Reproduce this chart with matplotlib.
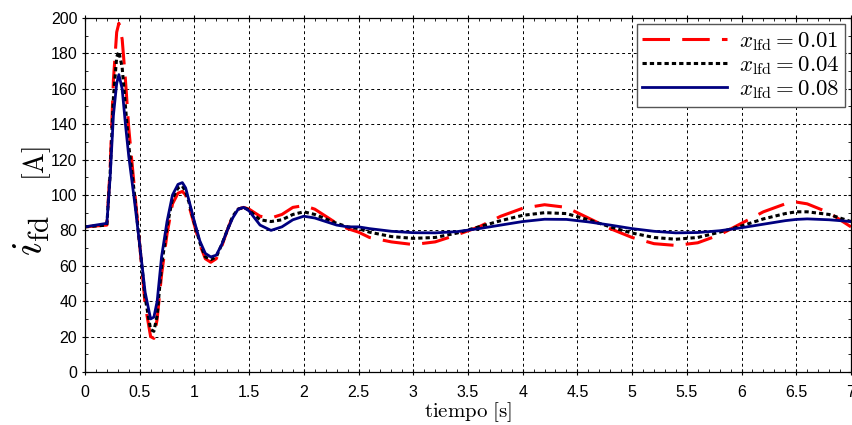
import matplotlib
matplotlib.use("Agg")
import matplotlib.pyplot as plt
from matplotlib.ticker import MultipleLocator, FuncFormatter

plt.rcParams['mathtext.fontset'] = 'cm'
plt.rcParams['font.family'] = ['Liberation Sans', 'DejaVu Sans']

# time samples [s]
t = [0.0, 0.2, 0.23, 0.26, 0.29, 0.31, 0.34, 0.37, 0.4, 0.45, 0.5, 0.55, 0.6,
     0.63, 0.66, 0.7, 0.75, 0.8, 0.85, 0.89, 0.92, 0.95, 1.0, 1.05, 1.1, 1.15,
     1.2, 1.25, 1.3, 1.35, 1.4, 1.45, 1.5, 1.55, 1.6, 1.7, 1.8, 1.9, 2.0, 2.1,
     2.2, 2.3, 2.4, 2.5, 2.6, 2.8, 3.0, 3.2, 3.4, 3.6, 3.8, 4.0, 4.2, 4.4, 4.6,
     4.8, 5.0, 5.2, 5.4, 5.6, 5.8, 6.0, 6.2, 6.4, 6.5, 6.6, 6.8, 7.0]

i_001 = [82, 83, 115, 165, 192, 197, 188, 165, 138, 105, 72, 38, 20,
         19, 30, 55, 78, 95, 101, 102, 100, 94, 83, 72, 64, 62,
         64, 71, 80, 88, 92, 93, 92, 90, 88, 87, 89, 93, 94, 92,
         88, 84, 81, 79, 76, 73.5, 72, 73.5, 77.5, 82, 88, 92.5, 94.5, 93, 87,
         81, 76, 72.5, 71.5, 73, 77.5, 84, 90.5, 95, 96, 95, 90, 82]

i_004 = [82, 83, 112, 155, 178, 181, 172, 150, 128, 102, 72, 42, 24,
         23, 32, 60, 82, 98, 104, 105, 102, 96, 84, 73, 65, 63.5,
         65, 72, 80, 88, 92, 93, 91.5, 88.5, 86, 85, 86, 89, 90.5, 89,
         86.5, 84, 82, 81, 79, 76.5, 75.5, 76, 78.5, 82, 85.5, 88.5, 90, 89.5, 86,
         82, 78.5, 76, 75, 76, 79, 82.5, 86.5, 89.5, 90.5, 90.5, 89, 85]

i_008 = [82, 84, 110, 145, 163, 168, 160, 140, 122, 98, 72, 45, 30,
         31, 40, 65, 85, 100, 106, 107, 104, 97, 85, 74, 67, 65,
         66, 72, 80, 87, 92, 93, 91, 87, 83, 80, 82, 86, 88, 87,
         85, 83, 82, 82, 81, 79.5, 78.7, 78.6, 79.3, 81, 83, 85, 86.3, 86.2, 84.8,
         83, 81, 79.5, 78.6, 78.8, 79.8, 81.5, 83.5, 85.5, 86.2, 86.5, 86, 85]

labels = [r'$x_{\mathrm{lfd}} = 0.01$', r'$x_{\mathrm{lfd}} = 0.04$',
          r'$x_{\mathrm{lfd}} = 0.08$']

fig = plt.figure(figsize=(8.53, 4.25), dpi=100)
ax = fig.add_axes([0.0996, 0.1247, 0.898, 0.833])

ax.plot(t, i_001, color='#ff0000', lw=2.2, ls=(0, (9, 4)), label=labels[0])
ax.plot(t, i_004, color='black', lw=2.2, ls=(0, (1.4, 1.0)), label=labels[1])
ax.plot(t, i_008, color='#000080', lw=2.0, ls='-', label=labels[2])

ax.set_xlim(0, 7)
ax.set_ylim(0, 200)
ax.xaxis.set_major_locator(MultipleLocator(0.5))
ax.xaxis.set_minor_locator(MultipleLocator(0.1))
ax.yaxis.set_major_locator(MultipleLocator(20))
ax.yaxis.set_minor_locator(MultipleLocator(10))
ax.xaxis.set_major_formatter(FuncFormatter(lambda v, p: f'{v:g}'))
ax.tick_params(which='major', direction='inout', length=5, width=0.8,
               top=True, right=True, labelsize=11.5)
ax.tick_params(axis='x', which='major', pad=7)
ax.tick_params(axis='y', which='major', pad=3)
ax.tick_params(which='minor', direction='in', length=2.5, width=0.6,
               top=True, right=True)
ax.grid(True, which='major', color='black', ls=(0, (3, 3)), lw=0.7)
for s in ax.spines.values():
    s.set_linewidth(0.9)

ax.set_xlabel(r'$\mathrm{tiempo\ [s]}$', fontsize=15, labelpad=0)

# y label: large i_fd and smaller [A], sharing a baseline
fig.text(0.050, 0.445, r'$i_{\mathrm{fd}}$', fontsize=30, rotation=90,
         rotation_mode='anchor', ha='center', va='baseline')
fig.text(0.052, 0.615, r'$[\mathrm{A}]$', fontsize=20, rotation=90,
         rotation_mode='anchor', ha='center', va='baseline')

leg = ax.legend(loc='upper right', fontsize=16.5, handlelength=3.7,
                handletextpad=0.5, labelspacing=0.0, borderpad=0.25,
                fancybox=False, framealpha=1, edgecolor='#555555',
                borderaxespad=0.25)
leg.get_frame().set_linewidth(1.0)

fig.savefig('out.png', dpi=100)
